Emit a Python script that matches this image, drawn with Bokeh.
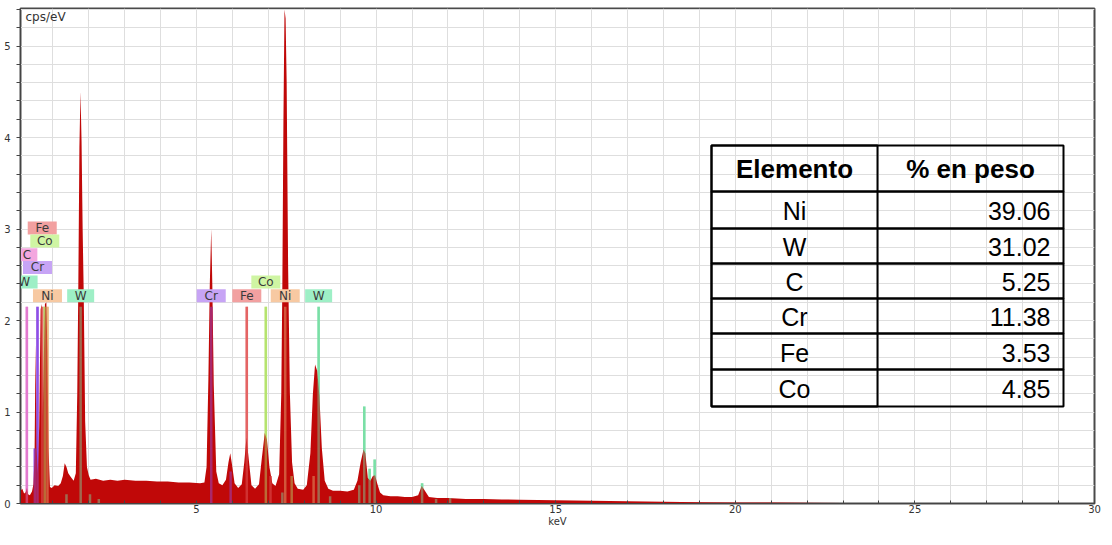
from bokeh.plotting import figure
from bokeh.models import FixedTicker, Label, BoxAnnotation, ColumnDataSource, Range1d
from bokeh.core.properties import value
from bokeh.embed import file_html
from bokeh.resources import INLINE

# ---------------- data ----------------
energy_kev = [0.10, 0.15, 0.20, 0.24, 0.28, 0.31, 0.36, 0.42, 0.46, 0.49, 0.52, 0.55, 0.58, 0.62, 0.66,
              0.69, 0.72, 0.75, 0.78, 0.82, 0.85, 0.88, 0.92, 0.97, 1.05, 1.15, 1.22, 1.28, 1.33, 1.38,
              1.43, 1.50, 1.58, 1.64, 1.68, 1.71, 1.74, 1.77, 1.80, 1.83, 1.86, 1.90, 1.95, 2.00, 2.05,
              2.20, 2.40, 2.60, 2.80, 3.00, 3.30, 3.60, 3.90, 4.20, 4.50, 4.80, 5.10, 5.22, 5.28, 5.33,
              5.37, 5.41, 5.44, 5.48, 5.55, 5.62, 5.72, 5.82, 5.89, 5.94, 5.99, 6.06, 6.16, 6.26, 6.33,
              6.39, 6.45, 6.53, 6.63, 6.74, 6.82, 6.90, 6.96, 7.03, 7.11, 7.20, 7.30, 7.36, 7.39, 7.42,
              7.45, 7.48, 7.51, 7.55, 7.60, 7.66, 7.73, 7.82, 7.97, 8.07, 8.17, 8.24, 8.30, 8.36, 8.42,
              8.49, 8.57, 8.67, 8.80, 9.00, 9.20, 9.38, 9.48, 9.57, 9.65, 9.70, 9.77, 9.84, 9.91, 9.97,
              10.03, 10.11, 10.20, 10.40, 10.60, 10.80, 11.00, 11.17, 11.27, 11.34, 11.47, 11.70, 12.00, 12.50, 13.00,
              13.50, 14.00, 15.00, 16.00, 17.00, 18.00, 19.00, 20.00, 21.00, 22.00, 23.00, 24.00, 24.50, 25.00, 30.00]
counts_cps = [0.14, 0.16, 0.11, 0.12, 0.17, 0.10, 0.09, 0.13, 0.21, 0.50, 1.74, 0.60, 0.33, 0.84, 2.12,
              2.18, 0.95, 1.60, 2.18, 2.20, 1.65, 0.60, 0.18, 0.17, 0.20, 0.19, 0.22, 0.30, 0.44, 0.40,
              0.33, 0.29, 0.25, 0.33, 1.20, 2.40, 3.90, 4.50, 3.95, 3.00, 2.30, 0.90, 0.40, 0.31, 0.26,
              0.27, 0.25, 0.26, 0.25, 0.26, 0.25, 0.25, 0.24, 0.24, 0.23, 0.23, 0.22, 0.23, 0.40, 1.35,
              2.40, 3.00, 2.40, 1.30, 0.35, 0.22, 0.20, 0.26, 0.45, 0.55, 0.42, 0.22, 0.17, 0.21, 0.45,
              0.72, 0.50, 0.20, 0.16, 0.21, 0.50, 0.77, 0.70, 0.40, 0.22, 0.19, 0.32, 1.20, 2.40, 4.20,
              5.40, 5.30, 4.60, 2.60, 1.20, 0.45, 0.22, 0.16, 0.15, 0.20, 0.55, 1.20, 1.52, 1.45, 1.18,
              0.60, 0.25, 0.16, 0.14, 0.14, 0.13, 0.15, 0.25, 0.45, 0.59, 0.55, 0.28, 0.25, 0.30, 0.31,
              0.22, 0.12, 0.09, 0.08, 0.08, 0.07, 0.07, 0.09, 0.19, 0.15, 0.07, 0.06, 0.06, 0.05, 0.05,
              0.045, 0.04, 0.035, 0.03, 0.025, 0.02, 0.015, 0.012, 0.01, 0.008, 0.006, 0.004, 0.002, 0.0, 0.0]

# element marker lines
line_elements = ["C", "Cr", "Cr", "Fe", "Co", "Ni", "W", "W", "W", "W", "Cr", "Cr", "Fe", "Fe",
                 "Co", "Co", "Ni", "Ni", "W", "W", "W", "W", "W", "W", "W", "W", "W", "W"]
line_energies = [0.277, 0.573, 0.500, 0.705, 0.776, 0.851, 1.775, 1.380, 2.035, 2.280, 5.41, 5.95, 6.40, 7.06,
                 6.93, 7.65, 7.47, 8.26, 7.39, 8.40, 8.72, 9.53, 9.67, 9.82, 9.96, 11.28, 11.67, 12.06]
line_heights = [2.15, 2.15, 0.60, 2.15, 2.15, 2.15, 2.15, 0.10, 0.10, 0.05, 2.15, 0.35, 2.15, 0.30,
                2.15, 0.30, 2.15, 0.30, 0.12, 2.15, 0.08, 0.20, 1.06, 0.38, 0.48, 0.22, 0.05, 0.06]

# element labels
label_elements = ["Fe", "Co", "C", "Cr", "W", "Ni", "W", "Cr", "Fe", "Co", "Ni", "W"]
label_energies = [0.705, 0.776, 0.277, 0.573, 0.20, 0.851, 1.775, 5.41, 6.40, 6.93, 7.47, 8.40]
label_levels = [3.01, 2.87, 2.72, 2.58, 2.42, 2.27, 2.27, 2.27, 2.27, 2.42, 2.27, 2.27]

# composition table
table_header = ["Elemento", "% en peso"]
table_elements = ["Ni", "W", "C", "Cr", "Fe", "Co"]
table_weights = ["39.06", "31.02", "5.25", "11.38", "3.53", "4.85"]

x_tick_values = [5, 10, 15, 20, 25, 30]
y_tick_values = [0, 1, 2, 3, 4, 5]

# ---------------- styles ----------------
SPEC_RED = "#C00808"
LINE_COLORS = {"C": "#E27AD0", "Cr": "#8E4FE6", "Fe": "#E46464", "Co": "#B5E36E", "Ni": "#E8B67A", "W": "#7ADFA6"}
BOX_COLORS = {"C": "#F3A7DF", "Cr": "#C7A4F5", "Fe": "#F2A0A0", "Co": "#CFF5A3", "Ni": "#F7C9A2", "W": "#9EEFC6"}
BOX_WIDTH = {"C": 21, "W": 27}
GRID = "#dedede"
AX = "#444444"

p = figure(width=1104, height=529, x_range=Range1d(0.1, 30), y_range=Range1d(0, 5.41),
           output_backend="svg", toolbar_location=None, title=None,
           min_border_left=20, min_border_right=10, min_border_top=8, min_border_bottom=25)
p.background_fill_color = "white"
p.border_fill_color = "white"
p.outline_line_color = "#4a4a4a"
p.outline_line_width = 2

# axes
p.xaxis.ticker = FixedTicker(ticks=x_tick_values, minor_ticks=[k for k in range(1, 30) if k % 5 != 0])
p.yaxis.ticker = FixedTicker(ticks=y_tick_values,
                             minor_ticks=[round(k * 0.2, 1) for k in range(1, 28) if k % 5 != 0])
p.xaxis.major_tick_in = 3
p.xaxis.major_tick_out = 0
p.xaxis.minor_tick_in = 3
p.xaxis.minor_tick_out = 0
p.yaxis.major_tick_in = 0
p.yaxis.major_tick_out = 4
p.yaxis.minor_tick_in = 0
p.yaxis.minor_tick_out = 4
p.xaxis.major_label_standoff = 1
p.yaxis.major_label_standoff = 6
p.xaxis.axis_label = "keV"
p.xaxis.axis_label_standoff = 0
p.xaxis.axis_label_text_font = "DejaVu Sans"
p.xaxis.axis_label_text_font_size = "10px"
p.xaxis.axis_label_text_font_style = "normal"
p.xaxis.axis_label_text_color = "#333333"
for ax in (p.xaxis, p.yaxis):
    ax.axis_line_color = AX
    ax.major_tick_line_color = AX
    ax.minor_tick_line_color = AX
    ax.major_label_text_font = "DejaVu Sans"
    ax.major_label_text_font_size = "10px"
    ax.major_label_text_color = "#333333"
for g in (p.xgrid, p.ygrid):
    g.grid_line_color = GRID
    g.minor_grid_line_color = GRID

# marker lines under the spectrum
line_src = ColumnDataSource(dict(x=line_energies, h=line_heights,
                                 c=[LINE_COLORS[e] for e in line_elements]))
p.segment(x0="x", y0=0, x1="x", y1="h", line_color="c", line_width=2.5, source=line_src)

# spectrum
spec_src = ColumnDataSource(dict(x=energy_kev, y=counts_cps))
p.varea(x="x", y1=0, y2="y", fill_color=SPEC_RED, source=spec_src)

# marker lines tint over the spectrum
p.segment(x0="x", y0=0, x1="x", y1="h", line_color="c", line_width=2.5, line_alpha=0.45, source=line_src)

# element labels
lab_src = ColumnDataSource(dict(x=label_energies, y=label_levels, t=label_elements,
                                fc=[BOX_COLORS[e] for e in label_elements],
                                w=[BOX_WIDTH.get(e, 29) for e in label_elements]))
p.rect(x="x", y="y", width="w", height=13, width_units="screen", height_units="screen",
       fill_color="fc", line_color=None, source=lab_src)
p.text(x="x", y="y", text="t", text_font=value("DejaVu Sans"), text_font_size="12px",
       text_align="center", text_baseline="middle", text_color="#3a3a3a", source=lab_src)

# y unit label (kept inside the frame so it is not clipped)
p.add_layout(Label(x=5, y=5.41, x_units="screen", y_units="data", y_offset=-1, text="cps/eV",
                   text_font="DejaVu Sans", text_font_size="12px", text_color="#333333",
                   text_baseline="top"))

# composition table (frame-relative screen units)
T_LEFT, T_COL, T_RIGHT = 691, 857, 1043
T_ROWS = [358, 312, 275, 240, 205, 170, 134, 97]


def box(l, r, t, b):
    return BoxAnnotation(left=l, right=r, top=t, bottom=b, left_units="screen", right_units="screen",
                         top_units="screen", bottom_units="screen", fill_color=None, fill_alpha=0,
                         line_color="black", line_width=2, line_alpha=1)


for i in range(len(T_ROWS) - 1):
    p.add_layout(box(T_LEFT, T_RIGHT, T_ROWS[i], T_ROWS[i + 1]))
p.add_layout(box(T_LEFT, T_COL, T_ROWS[0], T_ROWS[-1]))

hy = (T_ROWS[0] + T_ROWS[1]) / 2
p.add_layout(Label(x=(T_LEFT + T_COL) / 2, y=hy, x_units="screen", y_units="screen", text=table_header[0],
                   text_font="Liberation Sans", text_font_style="bold", text_font_size="26px",
                   text_color="black", text_align="center", text_baseline="middle"))
p.add_layout(Label(x=(T_COL + T_RIGHT) / 2, y=hy, x_units="screen", y_units="screen", text=table_header[1],
                   text_font="Liberation Sans", text_font_style="bold", text_font_size="26px",
                   text_color="black", text_align="center", text_baseline="middle"))
for i, (el, wt) in enumerate(zip(table_elements, table_weights)):
    cy = (T_ROWS[i + 1] + T_ROWS[i + 2]) / 2 - 1
    p.add_layout(Label(x=(T_LEFT + T_COL) / 2, y=cy, x_units="screen", y_units="screen", text=el,
                       text_font="Liberation Sans", text_font_size="25px", text_color="black",
                       text_align="center", text_baseline="middle"))
    p.add_layout(Label(x=T_RIGHT - 13, y=cy, x_units="screen", y_units="screen", text=wt,
                       text_font="Liberation Sans", text_font_size="25px", text_color="black",
                       text_align="right", text_baseline="middle"))

open("out.html", "w").write(file_html(p, INLINE))
